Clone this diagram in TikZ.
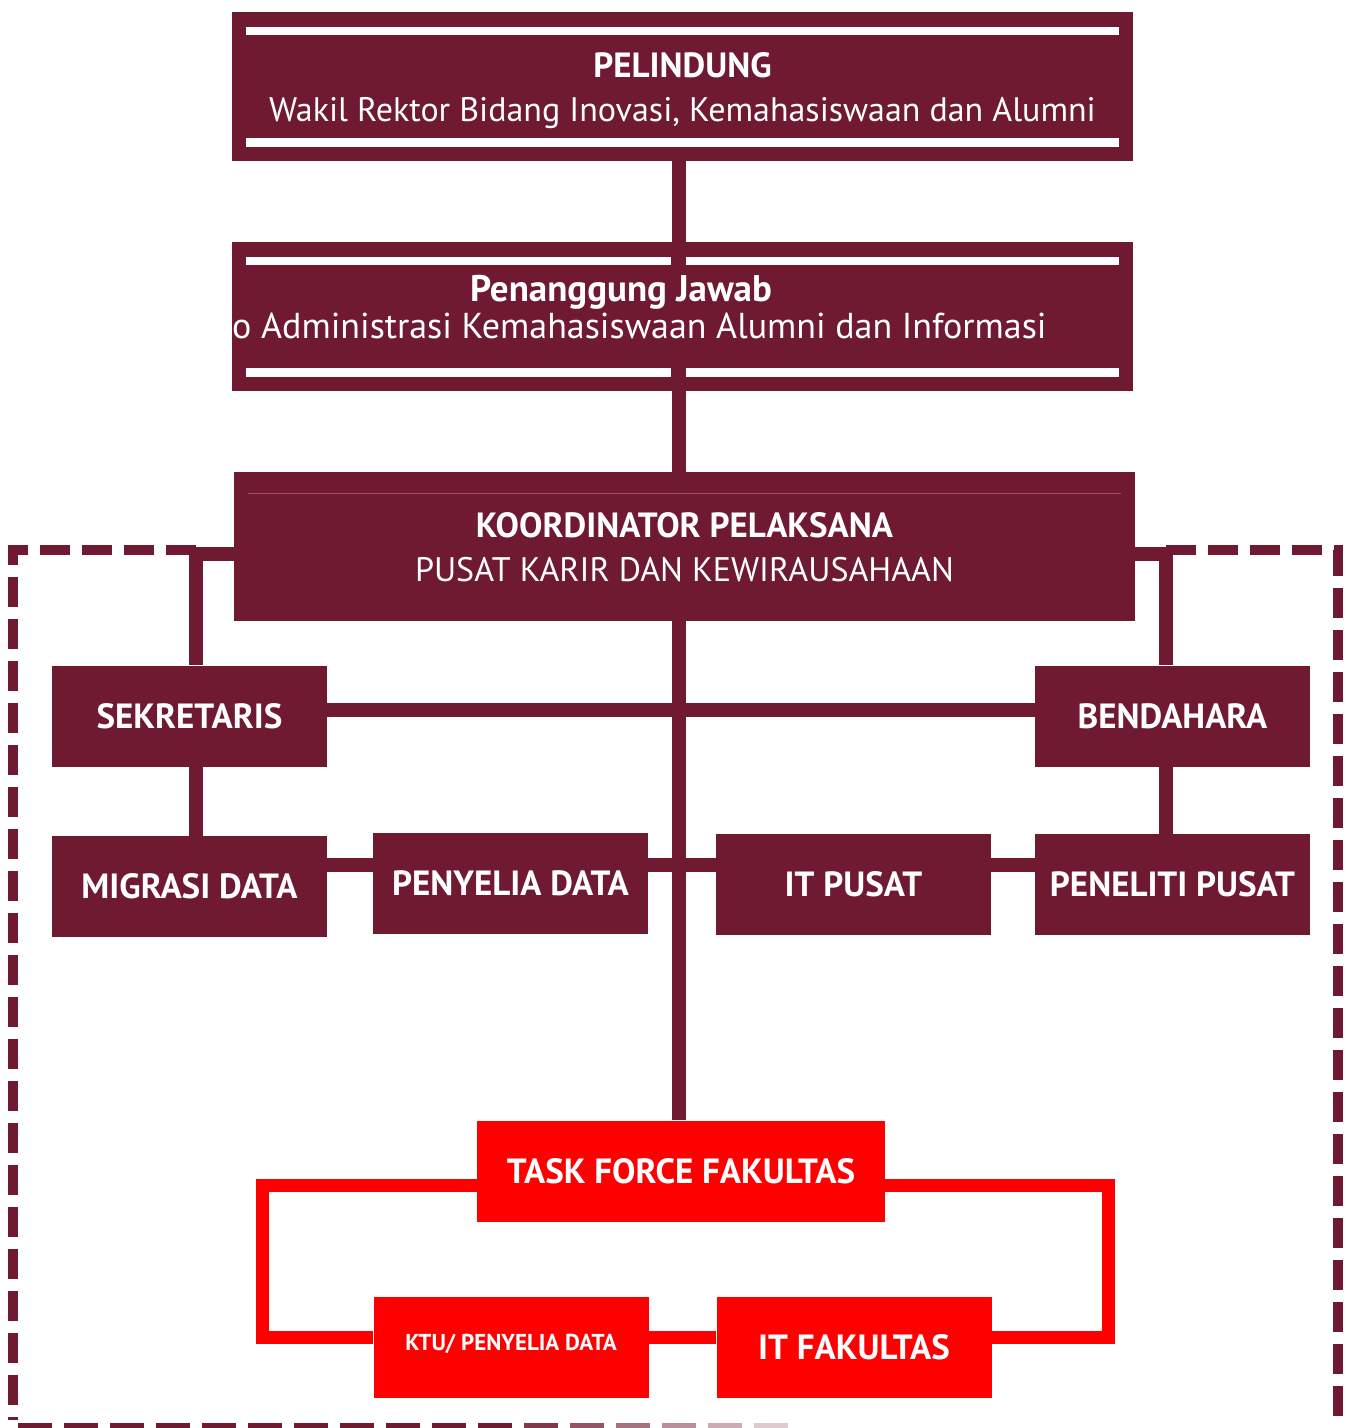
\documentclass[tikz,border=0pt]{standalone}
\usepackage{fontspec}
\setmainfont{PT Sans}
\definecolor{maroon}{HTML}{6F1A30}
\definecolor{taskred}{HTML}{FF0000}
\tikzset{
  box/.style={fill=maroon, text=white, inner sep=0pt, minimum width=275pt, minimum height=101pt,
    font=\bfseries\fontsize{35}{40}\selectfont},
  bigbox/.style={box, minimum width=901pt, minimum height=149pt, align=center, text depth=0pt},
  redbox/.style={box, fill=taskred},
  link/.style={draw=maroon, line width=14pt},
  redlink/.style={draw=taskred, line width=13pt},
  frame/.style={draw=maroon, line width=10pt, dash pattern=on 30pt off 12pt},
}

\begin{document}
\begin{tikzpicture}[x=1pt, y=-1pt]
        \useasboundingbox (0,0) rectangle (1350,1428);
        \coordinate (trunk) at (679,0); % main vertical line

        % Top boxes
        \node[bigbox] (pel) at (682.5,86.5)
              {PELINDUNG\\[4pt] \mdseries\fontsize{34}{40}\selectfont Wakil Rektor Bidang Inovasi, Kemahasiswaan dan Alumni};
        \node[bigbox] (pj) at (682.5,316.5) {};
        \node[bigbox] (koor) at (684.5,546.5)
              {KOORDINATOR PELAKSANA\\[4pt] \mdseries\fontsize{34}{40}\selectfont PUSAT KARIR DAN KEWIRAUSAHAAN};

        % White bars
        \fill[white] ([xshift=14pt,yshift=-15pt]pel.north west) rectangle ([xshift=-14pt,yshift=-23pt]pel.north east);
        \fill[white] ([xshift=14pt,yshift=14pt]pel.south west)  rectangle ([xshift=-14pt,yshift=23pt]pel.south east);
        \fill[white] ([xshift=14pt,yshift=-15pt]pj.north west)  rectangle (671,265);
        \fill[white] (686,257) rectangle ([xshift=-14pt,yshift=-23pt]pj.north east);
        \fill[white] ([xshift=14pt,yshift=14pt]pj.south west)   rectangle (671,368);
        \fill[white] (686,377) rectangle ([xshift=-14pt,yshift=23pt]pj.south east);
        \draw[maroon!75!white, line width=1pt] ([xshift=14pt,yshift=-22pt]koor.north west) -- ([xshift=-14pt,yshift=-22pt]koor.north east);

        % Texts of the second box
        \node[anchor=base, inner sep=0pt, text=white, font=\bfseries\fontsize{37}{40}\selectfont] (pjtitle) at (621,301) {Penanggung Jawab};
        \node[anchor=base west, inner sep=0pt, text=white, font=\fontsize{36}{40}\selectfont] (pjsub) at (232,338)
              {o Administrasi Kemahasiswaan Alumni dan Informasi};

        % Staff boxes
        \node[box] (sek) at (189.5,716)   {SEKRETARIS};
        \node[box] (ben) at (1172.5,716)  {BENDAHARA};
        \node[box] (mig) at (189.5,886.5) {MIGRASI DATA};
        \node[box] (pny) at (510.5,883.5) {PENYELIA DATA};
        \node[box] (itp) at (853.5,884.5) {IT PUSAT};
        \node[box] (pen) at (1172.5,884.5){PENELITI PUSAT};

        % Faculty boxes
        \node[redbox, minimum width=408pt] (task) at (681,1171) {TASK FORCE FAKULTAS};
        \node[redbox, font=\bfseries\fontsize{23}{26}\selectfont, text depth=10pt] (ktu) at (511,1347) {KTU/ PENYELIA DATA};
        \node[redbox] (itf) at (854,1347) {IT FAKULTAS};

        % Dashed frame
        \draw[frame] (196,550) -- (13,550) -- (13,1420);
        \draw[frame] (1166,550) -- (1338,550) -- (1338,1428);
        \foreach \i in {0,...,16}
            \fill[maroon, opacity={min(1,(820-46*\i)/360)}] (18+46*\i,1423) rectangle ++(34,6);

        % Connectors
        \draw[link] (pel.south -| trunk) -- (pj.north -| trunk);
        \draw[link] (pj.south -| trunk)  -- (koor.north -| trunk);
        \draw[link] (koor.south -| trunk) -- (task.north -| trunk);
        \draw[link] (koor.west |- 0,554) -| ([xshift=6.5pt]sek.north);
        \draw[link] (koor.east |- 0,554) -| ([xshift=-6.5pt]ben.north);
        \draw[link] ([xshift=6.5pt]sek.south) -- ([xshift=6.5pt]mig.north);
        \draw[link] ([xshift=-6.5pt]ben.south) -- ([xshift=-6.5pt]pen.north);
        \draw[link] (sek.east |- 0,710) -- (ben.west |- 0,710);
        \draw[link] (mig.east |- 0,865) -- (pny.west |- 0,865);
        \draw[link] (pny.east |- 0,865) -- (itp.west |- 0,865);
        \draw[link] (itp.east |- 0,865) -- (pen.west |- 0,865);

        % Red loop
        \draw[redlink] (task.west |- 0,1185) -| (262,1337) -- (ktu.west |- 0,1337);
        \draw[redlink] (task.east |- 0,1185) -| (1108,1337) -- (itf.east |- 0,1337);
        \draw[redlink] (ktu.east |- 0,1337) -- (itf.west |- 0,1337);
\end{tikzpicture}
\end{document}
